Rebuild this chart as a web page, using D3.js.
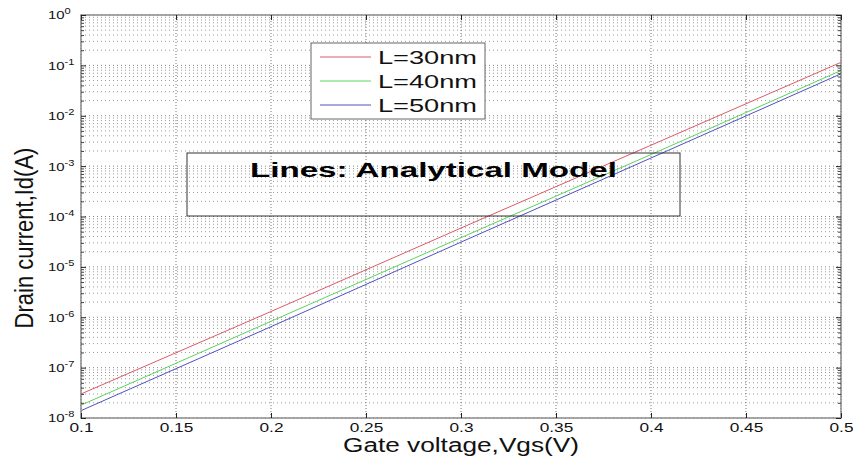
<!DOCTYPE html>
<html>
<head>
<meta charset="utf-8">
<script src="https://cdn.jsdelivr.net/npm/d3@7.9.0/dist/d3.min.js"></script>
<style>
  body { margin: 0; background: #fff; }
  svg { display: block; font-family: "Liberation Sans", Arial, sans-serif; }
</style>
</head>
<body>
<svg id="chart" width="853" height="461"></svg>
<script>
// values
const vgs = [0.1, 0.2, 0.3, 0.4, 0.5];
const id30 = [3.0e-8, 1.3e-6, 5.9e-5, 2.6e-3, 0.115];
const id40 = [1.8e-8, 8.3e-7, 3.8e-5, 1.7e-3, 0.079];
const id50 = [1.4e-8, 6.5e-7, 3.1e-5, 1.45e-3, 0.068];
const seriesNames = ["L=30nm", "L=40nm", "L=50nm"];
const seriesColors = ["#dc5a66", "#5cd25c", "#5050c4"];
const xTicks = [0.1, 0.15, 0.2, 0.25, 0.3, 0.35, 0.4, 0.45, 0.5];
const yExps = [-8, -7, -6, -5, -4, -3, -2, -1, 0];

const svg = d3.select('#chart');
const pL = 81, pR = 841, pT = 15, pB = 418;

let x = d3.scaleLinear().domain([0.1, 0.5]).range([pL, pR]);
let y = d3.scaleLog().domain([1e-8, 1]).range([pB, pT]);

let minor = [];
yExps.slice(0, -1).forEach(e => {
  for (let k = 2; k <= 9; k++) minor.push(k * Math.pow(10, e));
});
let major = yExps.map(e => Math.pow(10, e));

// grid
let grid = svg.append('g');
grid.selectAll('.hmin').data(minor).join('line')
  .attr('x1', pL).attr('x2', pR)
  .attr('y1', d => y(d)).attr('y2', d => y(d))
  .attr('stroke', '#9a9a9a').attr('stroke-dasharray', '1,3');
grid.selectAll('.hmaj').data(major).join('line')
  .attr('x1', pL).attr('x2', pR)
  .attr('y1', d => y(d)).attr('y2', d => y(d))
  .attr('stroke', '#888').attr('stroke-dasharray', '1,3');
grid.selectAll('.vmaj').data(xTicks).join('line')
  .attr('x1', d => x(d)).attr('x2', d => x(d))
  .attr('y1', pT).attr('y2', pB)
  .attr('stroke', '#777').attr('stroke-dasharray', '1,2');

// lines
let line = d3.line().x(d => x(d[0])).y(d => y(d[1]));
[id30, id40, id50].forEach((s, i) => {
  svg.append('path')
    .datum(vgs.map((v, j) => [v, s[j]]))
    .attr('d', line)
    .attr('fill', 'none')
    .attr('stroke', seriesColors[i])
    .attr('stroke-width', 1);
});

// frame
svg.append('rect')
  .attr('x', pL).attr('y', pT)
  .attr('width', pR - pL).attr('height', pB - pT)
  .attr('fill', 'none').attr('stroke', '#8c8c8c').attr('stroke-width', 1.5);

// axes (ticks inside, mirrored)
let xAxis = svg.append('g').attr('transform', `translate(0,${pB})`)
  .call(d3.axisBottom(x).tickValues(xTicks).tickSize(-5).tickFormat(d3.format('~g')));
xAxis.select('.domain').remove();
xAxis.selectAll('line').attr('stroke', '#222');
xAxis.selectAll('text')
  .attr('y', 0).attr('dy', 0)
  .attr('transform', 'translate(0,14) scale(1.38,1)')
  .attr('font-size', 12.5).attr('fill', '#111')
  .attr('font-family', '"Liberation Sans", Arial, sans-serif');

svg.append('g').attr('transform', `translate(0,${pT})`)
  .call(d3.axisTop(x).tickValues(xTicks).tickSize(-5).tickFormat(''))
  .call(g => g.select('.domain').remove())
  .selectAll('line').attr('stroke', '#222');

let yAxis = svg.append('g').attr('transform', `translate(${pL},0)`)
  .call(d3.axisLeft(y).tickValues(major).tickSize(-5).tickFormat(''));
yAxis.select('.domain').remove();
yAxis.selectAll('line').attr('stroke', '#222');
yAxis.selectAll('.tick').each(function(d) {
  let t = d3.select(this).select('text');
  t.attr('x', -33 / 1.3).attr('dy', '0.34em')
    .attr('text-anchor', 'start')
    .attr('transform', 'scale(1.3,1)')
    .attr('font-size', 11.5).attr('fill', '#111')
    .attr('font-family', '"Liberation Sans", Arial, sans-serif')
    .text('10');
  t.append('tspan').attr('font-size', 8.5).attr('dy', -5)
    .text(String(Math.round(Math.log10(d))));
});

svg.append('g').attr('transform', `translate(${pL},0)`)
  .call(d3.axisLeft(y).tickValues(minor).tickSize(-3).tickFormat(''))
  .call(g => g.select('.domain').remove())
  .selectAll('line').attr('stroke', '#444');
svg.append('g').attr('transform', `translate(${pR},0)`)
  .call(d3.axisRight(y).tickValues(major).tickSize(-5).tickFormat(''))
  .call(g => g.select('.domain').remove())
  .selectAll('line').attr('stroke', '#222');
svg.append('g').attr('transform', `translate(${pR},0)`)
  .call(d3.axisRight(y).tickValues(minor).tickSize(-3).tickFormat(''))
  .call(g => g.select('.domain').remove())
  .selectAll('line').attr('stroke', '#444');

// axis labels
svg.append('text')
  .attr('x', 461).attr('y', 452)
  .attr('text-anchor', 'middle')
  .attr('font-size', 19.5).attr('fill', '#111')
  .attr('textLength', 236).attr('lengthAdjust', 'spacingAndGlyphs')
  .text('Gate voltage,Vgs(V)');

svg.append('text')
  .attr('transform', 'translate(33,238) scale(1.15,1) rotate(-90)')
  .attr('text-anchor', 'middle')
  .attr('font-size', 22).attr('fill', '#111')
  .text('Drain current,Id(A)');

// annotation box
svg.append('rect')
  .attr('x', 187).attr('y', 153).attr('width', 493).attr('height', 63)
  .attr('fill', 'none').attr('stroke', '#333').attr('stroke-width', 1);
svg.append('text')
  .attr('x', 250).attr('y', 177)
  .attr('font-size', 19.5).attr('font-weight', 'bold').attr('fill', '#000')
  .attr('textLength', 367).attr('lengthAdjust', 'spacingAndGlyphs')
  .text('Lines: Analytical Model');

// legend
let legend = svg.append('g');
legend.append('rect')
  .attr('x', 311).attr('y', 43).attr('width', 174).attr('height', 76)
  .attr('fill', '#fff').attr('stroke', '#666').attr('stroke-width', 1);
let items = legend.selectAll('g.item').data(seriesNames).join('g')
  .attr('transform', (d, i) => `translate(0,${57 + i * 24})`);
items.append('line')
  .attr('x1', 320).attr('x2', 371)
  .attr('stroke', (d, i) => seriesColors[i]).attr('stroke-width', 1);
items.append('text')
  .attr('x', 378).attr('y', 6.5)
  .attr('font-size', 17.5).attr('fill', '#111')
  .attr('textLength', 99).attr('lengthAdjust', 'spacingAndGlyphs')
  .text(d => d);
</script>
</body>
</html>
